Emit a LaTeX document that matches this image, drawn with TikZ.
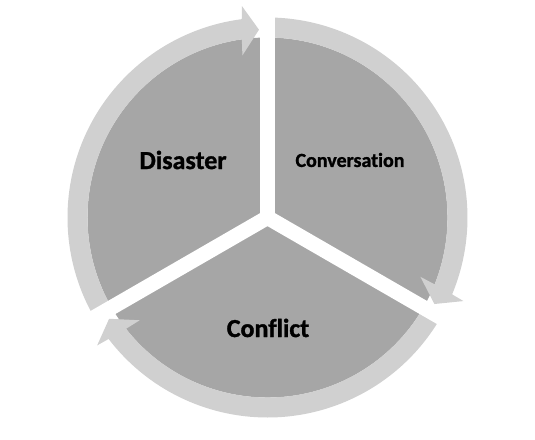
\documentclass[tikz,border=0pt]{standalone}
\usepackage{fontspec}
\setmainfont{Carlito}[Ligatures=NoCommon, BoldFeatures={FakeBold=1.2}]
\definecolor{piegray}{RGB}{166,166,166}
\definecolor{ringgray}{RGB}{208,208,208}

\begin{document}
\begin{tikzpicture}[
  x=1pt, y=1pt,
  sector/.style={fill=piegray},
  ringarrow/.style={fill=ringgray},
  gap/.style={draw=white, line width=15pt},
  phase/.style={
    text=black,
    inner sep=0pt,
    font=\bfseries\fontsize{26}{30}\selectfont
  }
]

\useasboundingbox (-267.5,-221.5) rectangle (267.5,217.5);

% three sectors
\foreach \s/\e in {90/210, -30/90, 210/330}
  \fill[sector] (0,0) -- (\s:180) arc[start angle=\s, end angle=\e, radius=180] -- cycle;

% circular arrows, running clockwise
\foreach \s/\e in {210/90, 90/-30, 330/210}
  \fill[ringarrow] (\s:200) arc[start angle=\s, end angle=\e+7.4, radius=200]
    -- (\e+6.9:213) -- (\e+2.6:188) -- (\e+8.8:164) -- (\e+8.2:180)
    arc[start angle=\e+8.2, end angle=\s, radius=180] -- cycle;

% white gaps between the sectors
\foreach \a in {90,210,330}
  \draw[gap] (0,0) -- (\a:230);

\node[phase] (disaster) at (-84.5,57.5) {Disaster};
\node[phase, font=\bfseries\fontsize{20}{24}\selectfont] (conversation) at (82.5,57.5) {Conversation};
\node[phase] (conflict) at (0.5,-110.5) {Conflict};

\end{tikzpicture}
\end{document}
